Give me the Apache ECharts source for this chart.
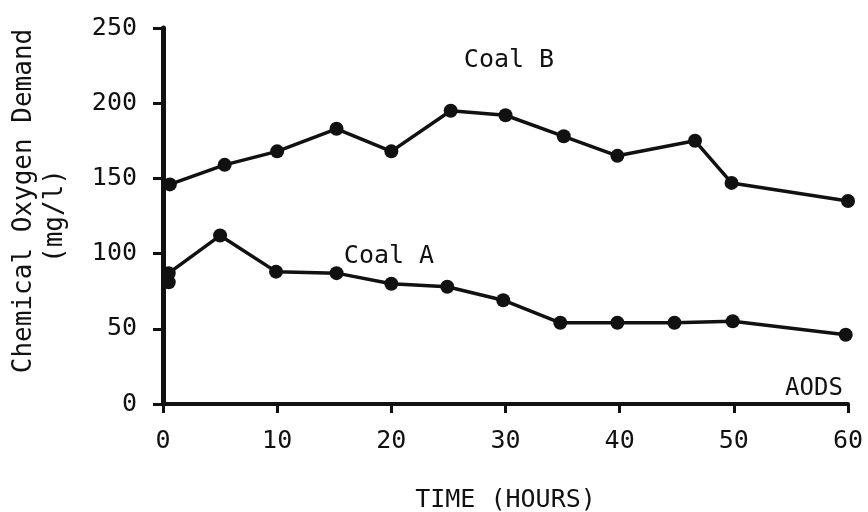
<!DOCTYPE html>
<html>
<head>
<meta charset="utf-8">
<script src="https://cdn.jsdelivr.net/npm/echarts@6/dist/echarts.min.js"></script>
<style>
  html, body { margin: 0; padding: 0; background: #fff; }
  #chart { width: 868px; height: 512px; }
</style>
</head>
<body>
<div id="chart"></div>
<script>
// Sampling times (hours) and chemical oxygen demand (mg/l) for each coal
const coalBHours = [0.6, 5.4, 10, 15.2, 20, 25.2, 30, 35.1, 39.8, 46.6, 49.8, 60];
const coalBCod   = [146, 159, 168, 183, 168, 195, 192, 178, 165, 175, 147, 135];

const coalAHours = [0.5, 0.5, 5, 9.9, 15.2, 20, 24.9, 29.8, 34.8, 39.8, 44.8, 49.9, 59.8];
const coalACod   = [81, 87, 112, 88, 87, 80, 78, 69, 54, 54, 54, 55, 46];

const xTicks = [0, 10, 20, 30, 40, 50, 60];
const yTicks = [0, 50, 100, 150, 200, 250];

const FONT = '"DejaVu Sans Mono", "Liberation Mono", monospace';
const INK = '#111';

const pairs = (xs, ys) => xs.map((x, i) => [x, ys[i]]);

const chart = echarts.init(document.getElementById('chart'), null, { renderer: 'canvas' });

const lineSeries = (name, data) => ({
  name,
  type: 'line',
  data,
  symbol: 'circle',
  symbolSize: 14,
  lineStyle: { color: INK, width: 3.5 },
  itemStyle: { color: INK },
  animation: false,
  z: 3
});

chart.setOption({
  backgroundColor: '#fff',
  animation: false,
  grid: { left: 163, right: 20, top: 28, bottom: 108, containLabel: false, outerBoundsMode: 'none' },
  xAxis: {
    type: 'value',
    min: xTicks[0],
    max: xTicks[xTicks.length - 1],
    interval: 10,
    name: 'TIME (HOURS)',
    nameLocation: 'middle',
    nameGap: 84,
    nameTextStyle: { fontFamily: FONT, fontSize: 25, color: INK },
    axisLine: { lineStyle: { color: INK, width: 4 } },
    axisTick: { show: true, length: 9, lineStyle: { color: INK, width: 3 } },
    axisLabel: { fontFamily: FONT, fontSize: 25, color: INK, margin: 25 },
    splitLine: { show: false }
  },
  yAxis: {
    type: 'value',
    min: yTicks[0],
    max: yTicks[yTicks.length - 1],
    interval: 50,
    axisLine: { show: true, lineStyle: { color: INK, width: 5 } },
    axisTick: { show: true, length: 10, lineStyle: { color: INK, width: 3 } },
    axisLabel: { fontFamily: FONT, fontSize: 25, color: INK, margin: 26 },
    splitLine: { show: false }
  },
  series: [
    lineSeries('Coal B', pairs(coalBHours, coalBCod)),
    lineSeries('Coal A', pairs(coalAHours, coalACod))
  ],
  graphic: [
    {
      type: 'text', x: 24, y: 201, rotation: Math.PI / 2,
      style: { text: 'Chemical Oxygen Demand', font: '26px ' + FONT, fill: INK, align: 'center', verticalAlign: 'middle' }
    },
    {
      type: 'text', x: 55, y: 216, rotation: Math.PI / 2,
      style: { text: '(mg/l)', font: '26px ' + FONT, fill: INK, align: 'center', verticalAlign: 'middle' }
    },
    {
      type: 'text', x: 509, y: 60,
      style: { text: 'Coal B', font: '25px ' + FONT, fill: INK, align: 'center', verticalAlign: 'middle' }
    },
    {
      type: 'text', x: 389, y: 256,
      style: { text: 'Coal A', font: '25px ' + FONT, fill: INK, align: 'center', verticalAlign: 'middle' }
    },
    {
      type: 'text', x: 814, y: 389,
      style: { text: 'AODS', font: '24px ' + FONT, fill: INK, align: 'center', verticalAlign: 'middle' }
    }
  ]
});
</script>
</body>
</html>
